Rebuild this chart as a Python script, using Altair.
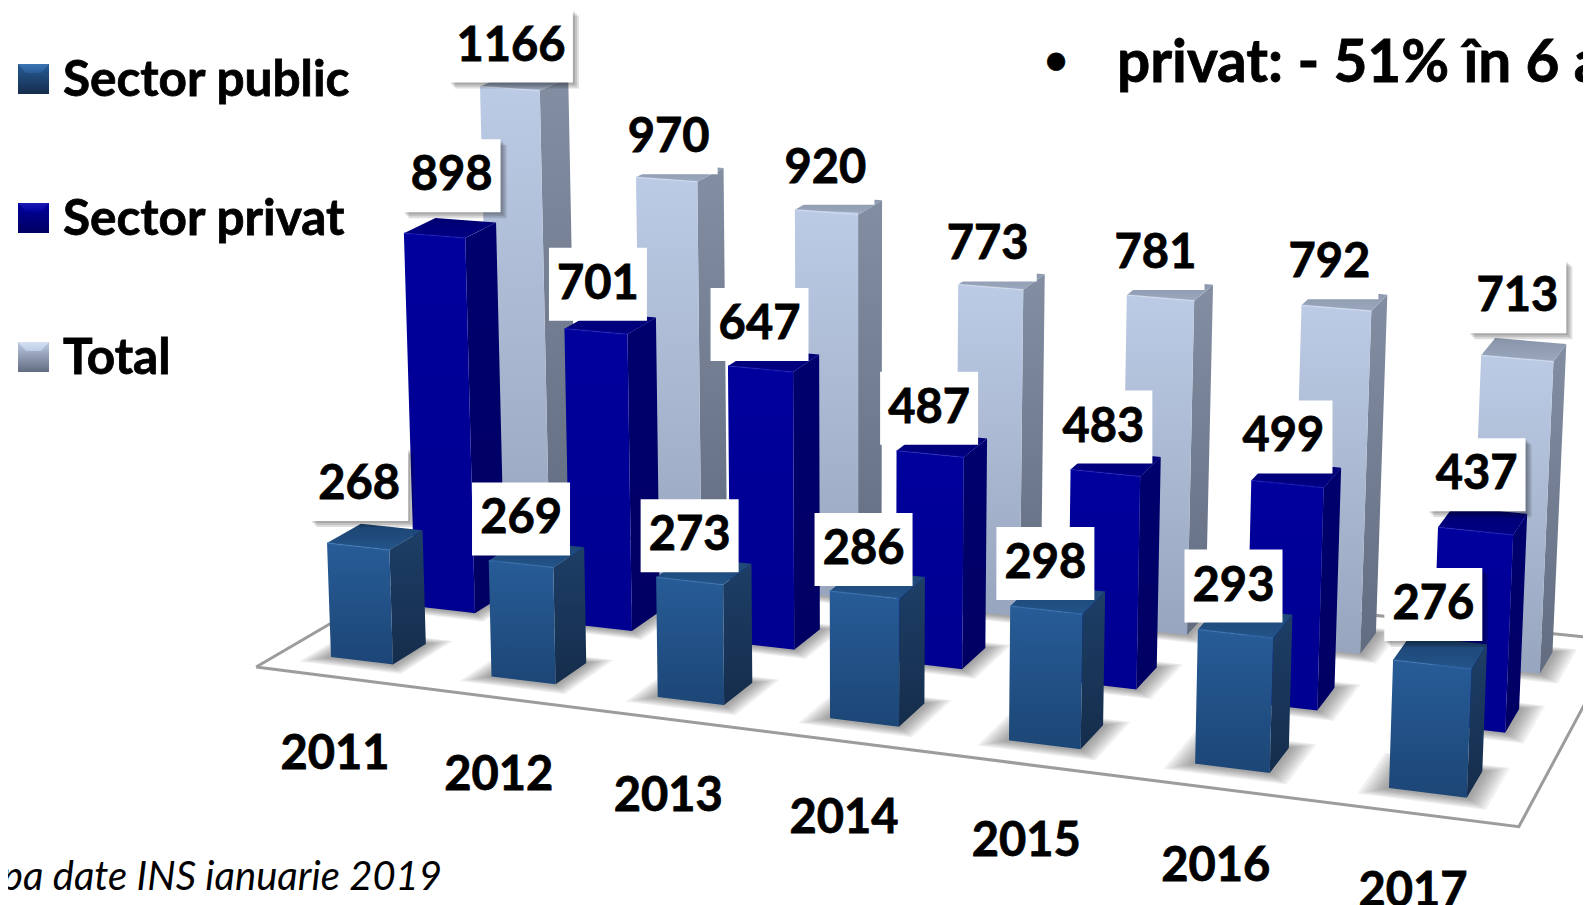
import altair as alt
import numpy as np
import pandas as pd

years = [2011, 2012, 2013, 2014, 2015, 2016, 2017]
public = [268, 269, 273, 286, 298, 293, 276]
private = [898, 701, 647, 487, 483, 499, 437]
total = [1166, 970, 920, 773, 781, 792, 713]
legend_names = ["Sector public", "Sector privat", "Total"]
note_text = "pa date INS ianuarie 2019"
headline = "privat: - 51% în 6 ani"

FONT = "Lato"
W, H_ = 1575, 897
series = [("Total", total, 2), ("Sector privat", private, 1), ("Sector public", public, 0)]

# camera: perspective floor grid (year index, series depth) -> picture
src = [(0, 0), (6, 0), (0, 2), (6, 2)]
dst = [(331, 657), (1389, 788), (492, 560), (1469, 666)]
A, b = [], []
for (u, v), (px, py) in zip(src, dst):
    A.append([u, v, 1, 0, 0, 0, -u * px, -v * px]); b.append(px)
    A.append([0, 0, 0, u, v, 1, -u * py, -v * py]); b.append(py)
hv = np.linalg.solve(np.array(A, float), np.array(b, float))
HM = np.append(hv, 1).reshape(3, 3)
DU, DV = 0.39, 0.39


def floor(u, v):
    p = HM @ np.array([u, v, 1.0])
    return p[0] / p[2], p[1] / p[2]


def proj(u, v, h=0.0):
    x, y = floor(u, v)
    a, c = u / 6, v / 2
    x += 20 * a * (1 - a)
    k = (0.425 * (1 - a) + 0.464 * a) * (1 - c) + (0.406 * (1 - a) + 0.436 * a) * c
    return x + (x - 860) * h * 2.8e-5, y - h * k


def sweep(poly, key):
    """Convex polygon -> stops of an area mark (x, upper, lower)."""
    xs = sorted({round(p[0], 3) for p in poly})
    rows = []
    n = len(poly)
    for x in xs:
        ys = []
        for i in range(n):
            (x1, y1), (x2, y2) = poly[i], poly[(i + 1) % n]
            lo, hi = min(x1, x2), max(x1, x2)
            if lo - 1e-2 <= x <= hi + 1e-2:
                if abs(x2 - x1) < 1e-6:
                    ys += [y1, y2]
                else:
                    ys.append(y1 + (y2 - y1) * (x - x1) / (x2 - x1))
        rows.append(dict(x=x, y=min(ys), y2=max(ys), key=key))
    return rows


xs = alt.Scale(domain=[8, 8 + W], range=[0, W], nice=False, zero=False)
ys = alt.Scale(domain=[8, 8 + H_], range=[0, H_], nice=False, zero=False)
X = lambda f="x": alt.X(f"{f}:Q", scale=xs, axis=None)
Y = lambda f="y": alt.Y(f"{f}:Q", scale=ys, axis=None)


def grad(top, bottom):
    return alt.Gradient(gradient="linear", x1=0, x2=0, y1=0, y2=1,
                        stops=[alt.GradientStop(offset=0, color=top),
                               alt.GradientStop(offset=1, color=bottom)])


def area(rows, fill, opacity=1.0):
    return alt.Chart(pd.DataFrame(rows)).mark_area(
        fill=fill, opacity=opacity, orient="vertical", clip=True
    ).encode(x=X(), y=Y(), y2=alt.Y2("y2:Q"), detail="key:N")


def line(rows, color, width, opacity=1.0):
    return alt.Chart(pd.DataFrame(rows)).mark_line(
        color=color, strokeWidth=width, opacity=opacity, clip=True
    ).encode(x=X(), y=Y(), detail="key:N", order="o:Q")


def rect(rows, fill, opacity=1.0):
    return alt.Chart(pd.DataFrame(rows)).mark_rect(fill=fill, opacity=opacity).encode(
        x=X("x"), x2=alt.X2("x2:Q"), y=Y("y"), y2=alt.Y2("y2:Q"))


def text(rows, size, weight="bold", style="normal", align="center", thick=0.8):
    return alt.Chart(pd.DataFrame(rows)).mark_text(
        font=FONT, fontSize=size, fontWeight=weight, fontStyle=style, align=align,
        baseline="middle", color="#000000", stroke="#000000", strokeWidth=thick
    ).encode(x=X(), y=Y(), text="t:N")


layers = []

# floor plate
UA, UB, VA, VB = -0.31, 6.69, -0.30, 2.72
corners = [(UA, VA), (UB, VA), (UB, VB), (UA, VB), (UA, VA)]
cpts = [floor(u, v) for u, v in corners]
layers.append(area(sweep(cpts[:4], "floor"), "#ffffff"))
layers.append(line([dict(x=p[0], y=p[1], key="f", o=i) for i, p in enumerate(cpts)], "#9c9c9c", 3))

# soft shadows under the bars: a stack of growing, faint footprints
for grow in (1.0, 0.88, 0.76, 0.64, 0.52, 0.4, 0.28, 0.16):
    rows = []
    for name, vals, s in series:
        for i in range(len(years)):
            poly = [proj(i - 0.13 * grow, s - 0.13 * grow), proj(i + DU + 0.12 * grow, s - 0.13 * grow),
                    proj(i + DU + 0.12 * grow, s + DV + 0.1 * grow), proj(i - 0.13 * grow, s + DV + 0.1 * grow)]
            rows += sweep(poly, f"{name}{i}")
    layers.append(area(rows, "#444444", 0.075))

palette = {
    "Total": dict(front=("#bccbe5", "#98a5bf"), side=("#838ea3", "#626c80"), top=("#8794aa", "#9aa7bd"), rim="#d6e0f2"),
    "Sector privat": dict(front=("#00009c", "#000090"), side=("#00006e", "#000063"), top=("#000072", "#000083"), rim="#1a1ab5"),
    "Sector public": dict(front=("#275c97", "#1c4676"), side=("#1d3e66", "#152d4c"), top=("#1c4370", "#235489"), rim="#3c75b3"),
}

for name, vals, s in series:
    front, side, top, rim = [], [], [], []
    for i, h in enumerate(vals):
        k = f"{name}{i}"
        fl, fr = proj(i, s, h), proj(i + DU, s, h)
        bl, br = proj(i, s + DV, h), proj(i + DU, s + DV, h)
        fl0, fr0, br0 = proj(i, s), proj(i + DU, s), proj(i + DU, s + DV)
        front += sweep([fl, fr, fr0, fl0], k)
        side += sweep([fr, br, br0, fr0], k)
        top += sweep([fl, bl, br, fr], k)
        rim += [dict(x=fl[0], y=fl[1], key=k, o=0), dict(x=fr[0], y=fr[1], key=k, o=1)]
    c = palette[name]
    layers += [area(side, grad(*c["side"])), area(top, grad(*c["top"])),
               area(front, grad(*c["front"])), line(rim, c["rim"], 1.5, 0.6)]

# value labels: distance of the label above its bar, and sideways nudge
label_lift = {"Total": [41, 40, 42, 40, 42, 43, 59],
              "Sector privat": [58, 45, 42, 43, 43, 44, 53],
              "Sector public": [59, 42, 42, 42, 43, 44, 56]}
label_nudge = {"Total": [1, 2, -1, -3, -5, -7, 0],
               "Sector privat": [17, 2, -1, -1, -2, -4, 1],
               "Sector public": [1, 0, 0, -1, -1, -2, 1]}
boxes, shadows, labels = [], [], []
for name, vals, s in series:
    for i, h in enumerate(vals):
        fl, fr = proj(i, s, h), proj(i + DU, s, h)
        cx = (fl[0] + fr[0]) / 2 + label_nudge[name][i]
        cy = fl[1] - label_lift[name][i]
        half = 62 if h >= 1000 else 49
        box = dict(x=cx - half, x2=cx + half, y=cy - 36, y2=cy + 37)
        boxes.append(box)
        if i in (0, 6):
            for d in (2, 4, 6):
                shadows.append(dict(x=cx - half + d, x2=cx + half + d, y=cy - 36 + d, y2=cy + 37 + d))
        labels.append(dict(x=cx, y=cy + 1, t=str(h)))
layers += [rect(shadows, "#000000", 0.13), rect(boxes, "#ffffff"), text(labels, 47)]

# year labels
year_rows = []
for i, yr in enumerate(years):
    x, y = proj(i, 0)
    year_rows.append(dict(x=x + 4 + 20 * i / 6, y=y + 98 + i, t=str(yr)))
layers.append(text(year_rows, 47))

# legend
leg_top = [64, 203, 342]
for name, yt in zip(legend_names, leg_top):
    c = palette[name]
    layers.append(rect([dict(x=18, x2=49, y=yt, y2=yt + 30)], grad(c["front"][0], c["side"][1])))
    layers.append(area(sweep([(18, yt), (49, yt), (41, yt + 9), (26, yt + 9)], name), grad(c["rim"], c["front"][0])))
layers.append(text([dict(x=63, y=yt + 17, t=n) for n, yt in zip(legend_names, leg_top)], 49.5, align="left"))

# annotations
layers.append(text([dict(x=1056, y=62, t="•")], 40, align="center"))
layers.append(text([dict(x=1117, y=64, t=headline)], 58.5, align="left"))
layers.append(text([dict(x=442, y=878, t=note_text)], 40, weight="normal", style="italic", align="right", thick=0))

chart = alt.layer(*layers).properties(
    width=W, height=H_, padding=0, autosize=alt.AutoSizeParams(type="none"), background="#ffffff"
).configure_view(stroke=None)

chart.save("out.html", embed_options={"renderer": "svg", "actions": False})
